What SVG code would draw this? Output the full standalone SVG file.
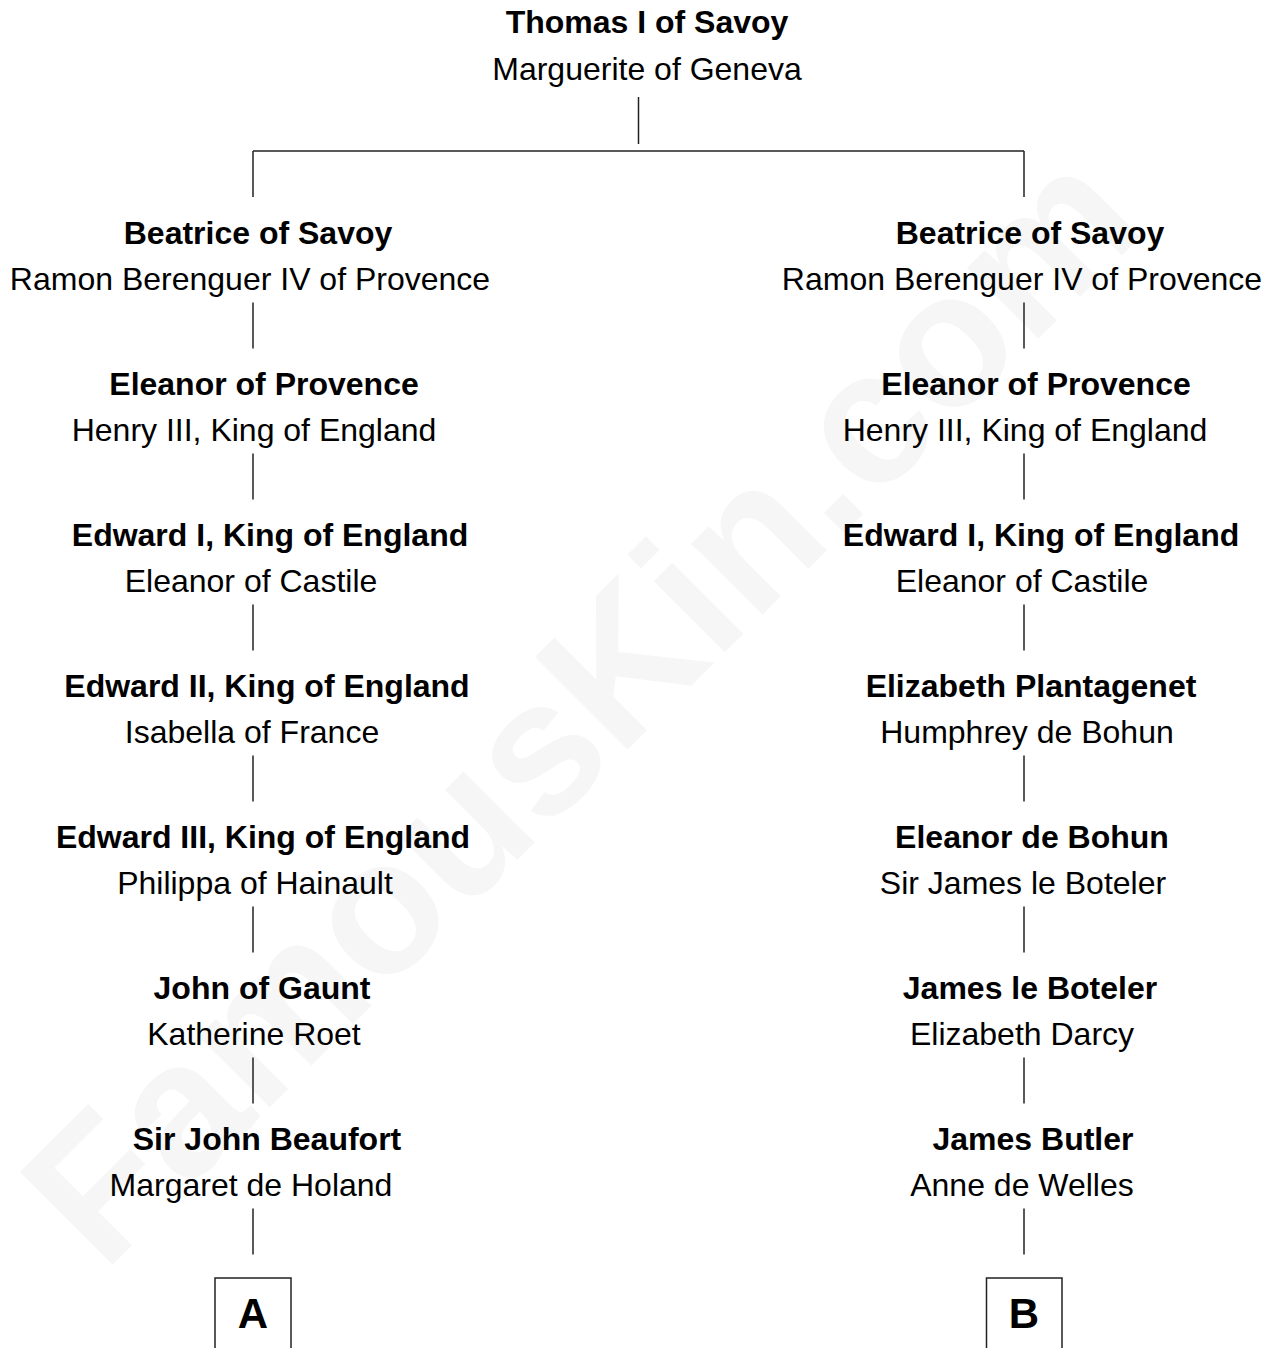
<svg xmlns="http://www.w3.org/2000/svg" width="1273" height="1348" viewBox="0 0 1273 1348">
<style>
text{font-family:"Liberation Sans",Arial,sans-serif;fill:#000;text-anchor:middle}
.b{font-weight:bold;font-size:32px}
.r{font-size:32px}
.w{font-weight:bold;font-size:190px;fill:#f6f6f6}
.lbl{font-weight:bold;font-size:42px}
.c line,.box{stroke:#222;stroke-width:1.5;fill:none}
</style>
<rect x="0" y="0" width="1273" height="1348" fill="#fff"/>
<text class="w" transform="translate(626,751) rotate(-45)">FamousKin.com</text>
<g id="connectors" class="c">
<line x1="638.5" y1="97" x2="638.5" y2="144"/>
<line x1="253" y1="151" x2="1024" y2="151"/>
<line x1="253" y1="151" x2="253" y2="197"/>
<line x1="1024" y1="151" x2="1024" y2="197"/>
<line x1="253" y1="302.5" x2="253" y2="348.5"/>
<line x1="253" y1="453.5" x2="253" y2="499.5"/>
<line x1="253" y1="604.5" x2="253" y2="650.5"/>
<line x1="253" y1="755.5" x2="253" y2="801.5"/>
<line x1="253" y1="906.5" x2="253" y2="952.5"/>
<line x1="253" y1="1057.5" x2="253" y2="1103.5"/>
<line x1="253" y1="1208.5" x2="253" y2="1254.5"/>
<line x1="1024" y1="302.5" x2="1024" y2="348.5"/>
<line x1="1024" y1="453.5" x2="1024" y2="499.5"/>
<line x1="1024" y1="604.5" x2="1024" y2="650.5"/>
<line x1="1024" y1="755.5" x2="1024" y2="801.5"/>
<line x1="1024" y1="906.5" x2="1024" y2="952.5"/>
<line x1="1024" y1="1057.5" x2="1024" y2="1103.5"/>
<line x1="1024" y1="1208.5" x2="1024" y2="1254.5"/>
</g>
<g id="n-thomas"><text class="b" x="647" y="33">Thomas I of Savoy</text><text class="r" x="647" y="80">Marguerite of Geneva</text></g>
<g id="n-l1"><text class="b" x="258" y="244">Beatrice of Savoy</text><text class="r" x="250" y="290">Ramon Berenguer IV of Provence</text></g>
<g id="n-l2"><text class="b" x="264" y="395">Eleanor of Provence</text><text class="r" x="254" y="441">Henry III, King of England</text></g>
<g id="n-l3"><text class="b" x="270" y="546">Edward I, King of England</text><text class="r" x="251" y="592">Eleanor of Castile</text></g>
<g id="n-l4"><text class="b" x="267" y="697">Edward II, King of England</text><text class="r" x="252" y="743">Isabella of France</text></g>
<g id="n-l5"><text class="b" x="263" y="848">Edward III, King of England</text><text class="r" x="255" y="894">Philippa of Hainault</text></g>
<g id="n-l6"><text class="b" x="262" y="999">John of Gaunt</text><text class="r" x="254" y="1045">Katherine Roet</text></g>
<g id="n-l7"><text class="b" x="267" y="1150">Sir John Beaufort</text><text class="r" x="251" y="1196">Margaret de Holand</text></g>
<g id="n-r1"><text class="b" x="1030" y="244">Beatrice of Savoy</text><text class="r" x="1022" y="290">Ramon Berenguer IV of Provence</text></g>
<g id="n-r2"><text class="b" x="1036" y="395">Eleanor of Provence</text><text class="r" x="1025" y="441">Henry III, King of England</text></g>
<g id="n-r3"><text class="b" x="1041" y="546">Edward I, King of England</text><text class="r" x="1022" y="592">Eleanor of Castile</text></g>
<g id="n-r4"><text class="b" x="1031" y="697">Elizabeth Plantagenet</text><text class="r" x="1027" y="743">Humphrey de Bohun</text></g>
<g id="n-r5"><text class="b" x="1032" y="848">Eleanor de Bohun</text><text class="r" x="1023" y="894">Sir James le Boteler</text></g>
<g id="n-r6"><text class="b" x="1030" y="999">James le Boteler</text><text class="r" x="1022" y="1045">Elizabeth Darcy</text></g>
<g id="n-r7"><text class="b" x="1033" y="1150">James Butler</text><text class="r" x="1022" y="1196">Anne de Welles</text></g>
<g id="n-A"><rect class="box" x="215" y="1278" width="76" height="90"/><text class="lbl" x="253" y="1328">A</text></g>
<g id="n-B"><rect class="box" x="986.5" y="1278" width="75.5" height="90"/><text class="lbl" x="1024" y="1328">B</text></g>
</svg>
